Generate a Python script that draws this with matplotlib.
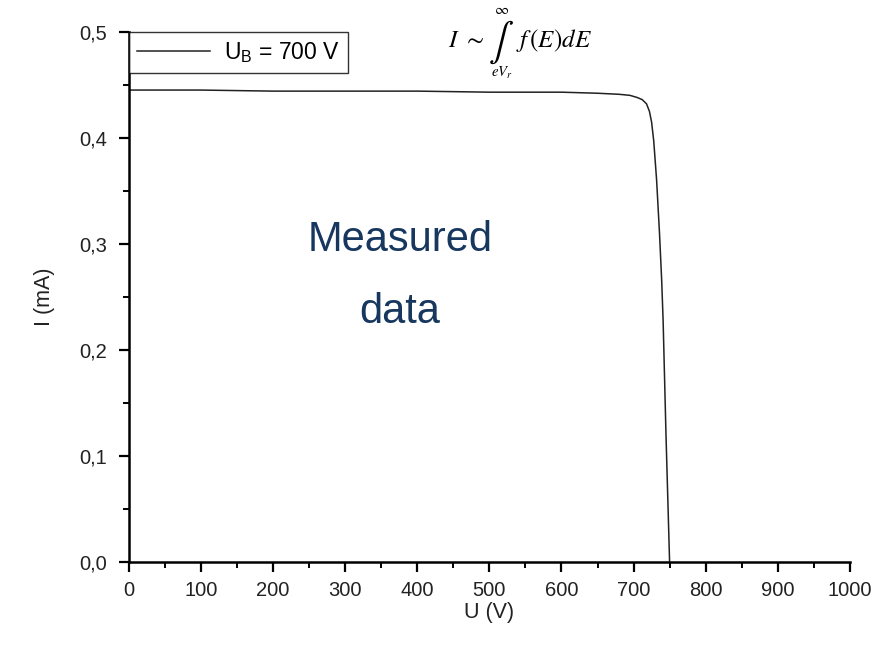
import matplotlib
matplotlib.use("Agg")
import matplotlib.pyplot as plt
from matplotlib.ticker import MultipleLocator, FuncFormatter

plt.rcParams['font.family'] = ['Liberation Sans', 'DejaVu Sans']

# retarding voltage sweep (V) and collector current (mA)
U = [0, 100, 200, 300, 400, 500, 600, 650, 680, 695, 705, 712, 718, 722, 725, 728,
     732, 736, 739, 741, 745, 750]
I = [0.445, 0.445, 0.444, 0.444, 0.444, 0.443, 0.443, 0.442, 0.441, 0.440, 0.438,
     0.436, 0.432, 0.425, 0.415, 0.397, 0.360, 0.310, 0.266, 0.228, 0.120, 0.0]
beam_label = "U$_\\mathregular{B}$ = 700 V"

fig = plt.figure(figsize=(8.77, 6.48), dpi=100)
ax = fig.add_axes([0.147, 0.133, 0.822, 0.818])

ax.plot(U, I, color='#222222', lw=1.1, label=beam_label)

ax.set_xlim(0, 1000)
ax.set_ylim(0, 0.5)
ax.xaxis.set_major_locator(MultipleLocator(100))
ax.xaxis.set_minor_locator(MultipleLocator(50))
ax.yaxis.set_major_locator(MultipleLocator(0.1))
ax.yaxis.set_minor_locator(MultipleLocator(0.05))
ax.yaxis.set_major_formatter(FuncFormatter(lambda v, p: f"{v:.1f}".replace('.', ',')))

for side in ('top', 'right'):
    ax.spines[side].set_visible(False)
for side in ('left', 'bottom'):
    ax.spines[side].set_linewidth(1.8)
ax.tick_params(which='major', direction='out', length=7, width=1.6, labelsize=14.5,
               colors='black', labelcolor='#222222')
ax.tick_params(axis='x', which='major', pad=7)
ax.tick_params(axis='y', which='major', pad=9)
ax.tick_params(which='minor', direction='out', length=4, width=1.4)

ax.set_xlabel("U (V)", fontsize=15.5, color='#222222', labelpad=1)
ax.set_ylabel("I (mA)", fontsize=15.5, color='#222222', labelpad=17)

leg = ax.legend(loc='upper left', bbox_to_anchor=(0.0, 1.0), borderaxespad=0,
                fontsize=16.5, frameon=True, fancybox=False, handlelength=3.2,
                handletextpad=0.6, borderpad=0.35)
leg.get_frame().set_edgecolor('black')
leg.get_frame().set_linewidth(1.0)

# annotation inside the plot
navy = '#17375e'
ax.text(376, 0.304, "Measured", fontsize=30, color=navy, ha='center', va='center')
ax.text(376, 0.236, "data", fontsize=30, color=navy, ha='center', va='center')

# integral expression above the plateau, built from pieces
def fx(px):
    return px / 877

def fy(py):
    return 1 - py / 648

fig.text(fx(448), fy(47), r"$I\ \sim$", fontsize=18, math_fontfamily='stix', va='baseline')
fig.text(fx(501), fy(42), r"$\int$", fontsize=27, math_fontfamily='stix', ha='center', va='center')
fig.text(fx(516), fy(47), r"$f\,(E)dE$", fontsize=18, math_fontfamily='stix', va='baseline')
fig.text(fx(502), fy(10), r"$\infty$", fontsize=11, math_fontfamily='stix', ha='center', va='center')
fig.text(fx(502), fy(73), r"$eV_r$", fontsize=10.5, math_fontfamily='stix', ha='center', va='center')

fig.savefig("out.png", dpi=100)
